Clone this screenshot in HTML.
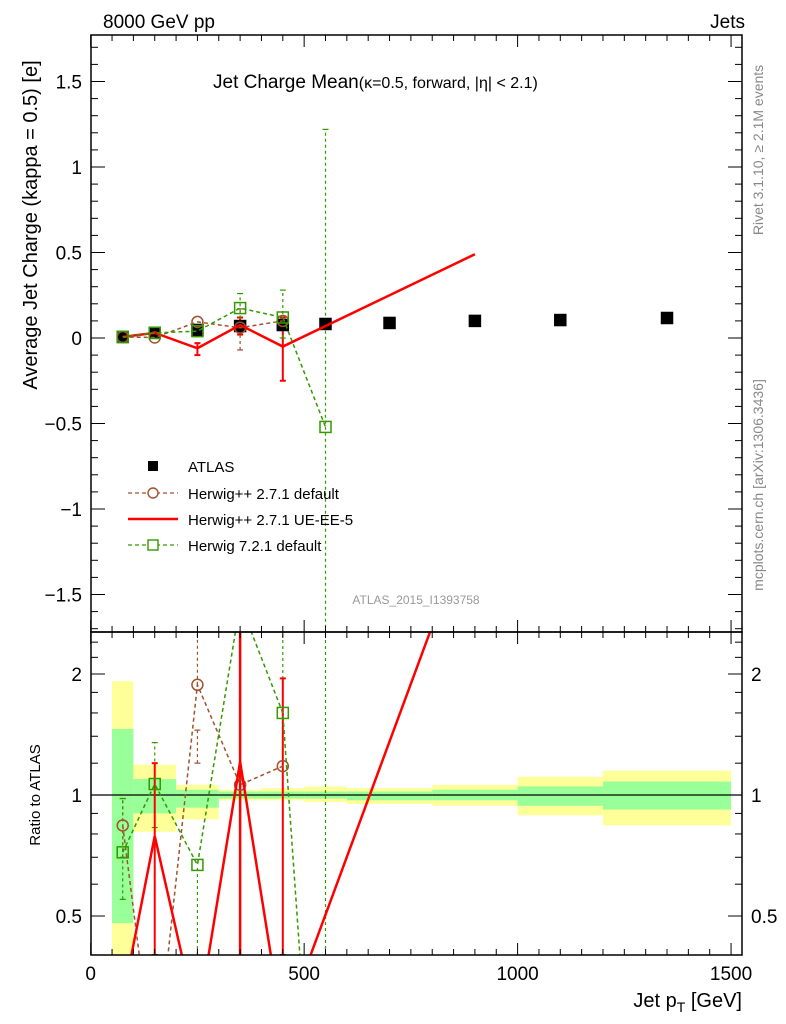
<!DOCTYPE html>
<html><head><meta charset="utf-8"><style>
html,body{margin:0;padding:0;background:#fff;width:786px;height:1024px;overflow:hidden;}
svg{display:block;font-family:"Liberation Sans",sans-serif;}
</style></head><body>
<svg id="c" width="786" height="1024" xmlns="http://www.w3.org/2000/svg"></svg>
<script>
const xCenters=[75,150,250,350,450,550,700,900,1100,1350];
const binEdges=[50,100,200,300,400,500,600,800,1000,1200,1500];
const atlasVals=[0.006,0.03,0.047,0.07,0.076,0.082,0.088,0.1,0.105,0.117];
const defX=[75,150,250,350,450];
const defVals=[0.006,0.003,0.094,0.06,0.1];
const defRatio=[0.84,0.2,1.88,1.06,1.18];
const ueX=[75,150,250,350,450,900];
const ueVals=[0.006,0.03,-0.06,0.076,-0.05,0.49];
const ueRatio=[0.31,0.79,0.27,1.21,0.26,5.1];
const h7X=[75,150,250,350,450,550];
const h7Vals=[0.006,0.03,0.04,0.175,0.12,-0.52];
const h7Ratio=[0.72,1.065,0.67,3.0,1.6,0.05];
const yellowHi=[1.92,1.19,1.06,1.03,1.04,1.05,1.04,1.06,1.11,1.15];
const yellowLo=[0.4,0.81,0.87,0.97,0.97,0.96,0.95,0.94,0.89,0.84];
const greenHi=[1.46,1.095,1.03,1.02,1.02,1.02,1.02,1.03,1.05,1.08];
const greenLo=[0.48,0.9,0.93,0.98,0.98,0.98,0.97,0.97,0.94,0.92];
const mainTicks=[-1.5,-1,-0.5,0,0.5,1,1.5];
const mainTickLabels=["\u22121.5","\u22121","\u22120.5","0","0.5","1","1.5"];
const xTicks=[0,500,1000,1500];

const svg=document.getElementById('c');
const NS='http://www.w3.org/2000/svg';
const L=91,R=742,T=35,MB=632,RB=955;
const X=v=>90.7+v*0.4269;
const Y=v=>338-v*171;
const YR=v=>795-Math.log10(v)*402;
function el(t,a,p){const e=document.createElementNS(NS,t);for(const k in a)e.setAttribute(k,a[k]);(p||svg).appendChild(e);return e;}
function txt(s,x,y,size,anchor,fill,p){const e=el('text',{x:x,y:y,'font-size':size,'text-anchor':anchor||'start',fill:fill||'#000'},p);e.textContent=s;return e;}

const defs=el('defs',{});
const c1=el('clipPath',{id:'cm'},defs);el('rect',{x:L,y:T,width:R-L,height:MB-T},c1);
const c2=el('clipPath',{id:'cr'},defs);el('rect',{x:L,y:MB,width:R-L,height:RB-MB},c2);

const gR=el('g',{'clip-path':'url(#cr)'});


for(let i=0;i<xCenters.length;i++){
 const x0=X(binEdges[i]),x1=X(binEdges[i+1]);
 const y=el('rect',{x:x0,y:YR(yellowHi[i]),width:x1-x0,height:YR(yellowLo[i])-YR(yellowHi[i]),fill:'#ffff99'},gR);
 
 
 const g=el('rect',{x:x0,y:YR(greenHi[i]),width:x1-x0,height:YR(greenLo[i])-YR(greenHi[i]),fill:'#99ff99'},gR);
 
 
}
el('line',{x1:L,x2:R,y1:YR(1),y2:YR(1),stroke:'#000','stroke-width':1.2},gR);

const gM=el('g',{'clip-path':'url(#cm)'});



function series(g,xs,vals,fy,color,dash,width,name){
 const p=el('polyline',{points:xs.map((x,i)=>X(x)+','+fy(vals[i])).join(' '),fill:'none',stroke:color,'stroke-width':width,'stroke-dasharray':dash||''},g);
 
 
}
function errbar(g,x,lo,hi,color,dash,w){el('line',{x1:X(x),x2:X(x),y1:lo,y2:hi,stroke:color,'stroke-width':w,'stroke-dasharray':dash||''},g);
 el('line',{x1:X(x)-3,x2:X(x)+3,y1:lo,y2:lo,stroke:color,'stroke-width':w},g);el('line',{x1:X(x)-3,x2:X(x)+3,y1:hi,y2:hi,stroke:color,'stroke-width':w},g);}
function circ(g,x,y,color,name){const c=el('circle',{cx:X(x),cy:y,r:5.5,fill:'none',stroke:color,'stroke-width':1.5},g);
 }
function sq(g,x,y,color,name,fill){const c=el('rect',{x:X(x)-5.5,y:y-5.5,width:11,height:11,fill:fill||'none',stroke:color,'stroke-width':1.5},g);
 }

errbar(gM,250,Y(-0.1),Y(-0.03),'#ff0000','',2);
errbar(gM,350,Y(0.02),Y(0.12),'#ff0000','',2);
errbar(gM,450,Y(-0.25),Y(0.12),'#ff0000','',2);
errbar(gM,350,Y(-0.07),Y(0.17),'#a0522d','3,3',1.2);
errbar(gM,350,Y(0.08),Y(0.26),'#339900','3,3',1.2);
errbar(gM,450,Y(0.0),Y(0.28),'#339900','3,3',1.2);
errbar(gM,550,Y(-1.8),Y(1.22),'#339900','3,3',1.2);
for(let i=0;i<xCenters.length;i++){sq(gM,xCenters[i],Y(atlasVals[i]),'#000','atlas-point','#000');}
series(gM,defX,defVals,Y,'#a0522d','4,3',1.5,'herwigpp-default-line');
defX.forEach((x,i)=>circ(gM,x,Y(defVals[i]),'#a0522d','herwigpp-default-point'));
series(gM,ueX,ueVals,Y,'#ff0000','',2.5,'herwigpp-ue-ee-5-line');
series(gM,h7X,h7Vals,Y,'#339900','4,3',1.5,'herwig7-default-line');
h7X.forEach((x,i)=>sq(gM,x,Y(h7Vals[i]),'#339900','herwig7-default-point'));

errbar(gR,75,YR(0.7),YR(0.98),'#a0522d','3,3',1.2);
errbar(gR,250,YR(1.2),YR(1.45),'#a0522d','3,3',1.2);
el('line',{x1:X(250),x2:X(250),y1:YR(1.88),y2:MB,stroke:'#a0522d','stroke-width':1.2,'stroke-dasharray':'3,3'},gR);
errbar(gR,75,YR(0.55),YR(0.98),'#339900','3,3',1.2);
errbar(gR,150,YR(0.83),YR(1.35),'#339900','3,3',1.2);
el('line',{x1:X(250),x2:X(250),y1:RB,y2:YR(0.67),stroke:'#339900','stroke-width':1.2,'stroke-dasharray':'3,3'},gR);
el('line',{x1:X(450),x2:X(450),y1:RB,y2:MB,stroke:'#339900','stroke-width':1.2,'stroke-dasharray':'3,3'},gR);
el('line',{x1:X(550),x2:X(550),y1:RB,y2:MB,stroke:'#339900','stroke-width':1.2,'stroke-dasharray':'3,3'},gR);
errbar(gR,150,YR(0.4),YR(1.2),'#ff0000','',2);
el('line',{x1:X(350),x2:X(350),y1:RB,y2:MB,stroke:'#ff0000','stroke-width':2.5},gR);
errbar(gR,450,YR(0.4),YR(1.95),'#ff0000','',2);
series(gR,defX,defRatio,YR,'#a0522d','4,3',1.5,'herwigpp-default-ratio');
defX.forEach((x,i)=>circ(gR,x,YR(defRatio[i]),'#a0522d','herwigpp-default-ratio-point'));
series(gR,ueX,ueRatio,YR,'#ff0000','',2.5,'herwigpp-ue-ee-5-ratio');
series(gR,h7X,h7Ratio,YR,'#339900','4,3',1.5,'herwig7-default-ratio');
h7X.forEach((x,i)=>sq(gR,x,YR(h7Ratio[i]),'#339900','herwig7-default-ratio-point'));

el('rect',{x:L,y:T,width:R-L,height:MB-T,fill:'none',stroke:'#000','stroke-width':1.5});
el('rect',{x:L,y:MB,width:R-L,height:RB-MB,fill:'none',stroke:'#000','stroke-width':1.5});
for(let v=0;v<=1500;v+=50){const maj=v%500===0;const len=maj?12:6;const x=X(v);
 [[T,1],[MB,-1],[MB,1],[RB,-1]].forEach(([y,d])=>el('line',{x1:x,x2:x,y1:y,y2:y+d*len,stroke:'#000','stroke-width':1}));}
xTicks.forEach(v=>{const t=txt(String(v),X(v),980,19,'middle');});
for(let k=-17;k<=17;k++){const v=k/10;const maj=k%5===0;const len=maj?14:7;const y=Y(v);
 el('line',{x1:L,x2:L+len,y1:y,y2:y,stroke:'#000'});el('line',{x1:R,x2:R-len,y1:y,y2:y,stroke:'#000'});}
mainTicks.forEach((v,i)=>{const t=txt(mainTickLabels[i],82,Y(v)+7,19,'end');});
[0.4,0.5,0.6,0.7,0.8,0.9,1,1.2,1.4,1.6,1.8,2,2.2,2.4].forEach(v=>{const maj=(v===0.5||v===1||v===2);const len=maj?14:7;const y=YR(v);
 el('line',{x1:L,x2:L+len,y1:y,y2:y,stroke:'#000'});el('line',{x1:R,x2:R-len,y1:y,y2:y,stroke:'#000'});});
[[0.5,'0.5'],[1,'1'],[2,'2']].forEach(([v,s])=>{txt(s,82,YR(v)+7,19,'end');txt(s,751,YR(v)+7,19,'start');});

txt('8000 GeV pp',103,28,19);
txt('Jets',745,28,19,'end');
const title=el('text',{x:213,y:88,'font-size':19},svg);
title.innerHTML='Jet Charge Mean<tspan font-size="16">(κ=0.5, forward, |η| &lt; 2.1)</tspan>';
const yl=txt('Average Jet Charge (kappa = 0.5) [e]',0,0,20,'middle');yl.setAttribute('transform','translate(37,225) rotate(-90)');

const rl=txt('Ratio to ATLAS',0,0,15,'middle');rl.setAttribute('transform','translate(40,795) rotate(-90)');

const xl=el('text',{x:742,y:1007,'font-size':20,'text-anchor':'end'});xl.innerHTML='Jet p<tspan font-size="14" dy="5">T</tspan><tspan dy="-5"> [GeV]</tspan>';

const rv=el('text',{'font-size':14,fill:'#888','text-anchor':'middle',transform:'translate(763,150) rotate(-90)'});rv.innerHTML='Rivet 3.1.10, ≥ 2.1M events';
const mc=txt('mcplots.cern.ch [arXiv:1306.3436]',0,0,14,'middle','#888');mc.setAttribute('transform','translate(763,485) rotate(-90)');
txt('ATLAS_2015_I1393758',416,604,12,'middle','#999');
const lg=el('g',{});
el('rect',{x:148,y:461,width:10,height:10,fill:'#000'},lg);txt('ATLAS',188,472,15,'start','#000',lg);
el('line',{x1:128,x2:178,y1:493,y2:493,stroke:'#a0522d','stroke-width':1.3,'stroke-dasharray':'4,3'},lg);el('circle',{cx:153,cy:493,r:5,fill:'#fff',stroke:'#a0522d','stroke-width':1.4},lg);
txt('Herwig++ 2.7.1 default',188,499,15,'start','#000',lg);
el('line',{x1:128,x2:178,y1:519,y2:519,stroke:'#ff0000','stroke-width':2.5},lg);txt('Herwig++ 2.7.1 UE-EE-5',188,525,15,'start','#000',lg);
el('line',{x1:128,x2:178,y1:545,y2:545,stroke:'#339900','stroke-width':1.3,'stroke-dasharray':'4,3'},lg);el('rect',{x:148,y:540,width:10,height:10,fill:'#fff',stroke:'#339900','stroke-width':1.4},lg);
txt('Herwig 7.2.1 default',188,551,15,'start','#000',lg);
</script>
</body></html>
